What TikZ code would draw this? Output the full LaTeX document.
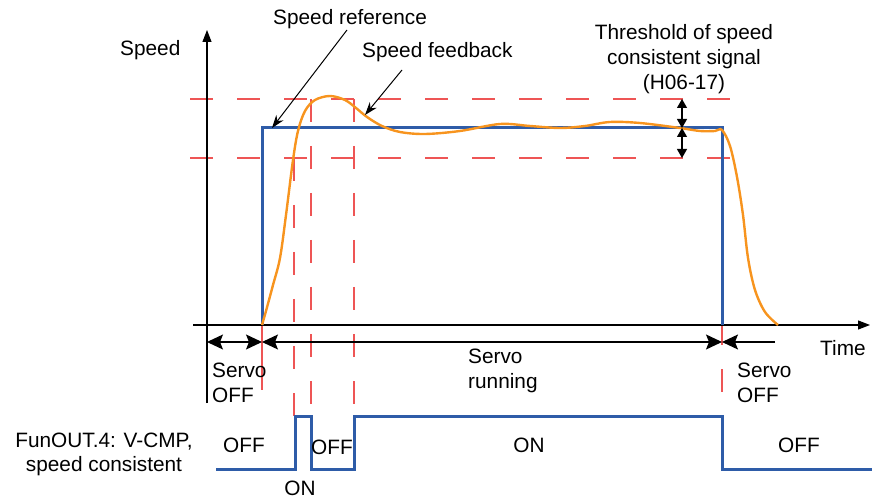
\documentclass[tikz,border=0pt]{standalone}
\usepackage{fontspec}
\setmainfont{Liberation Sans}
\usetikzlibrary{arrows.meta}
\definecolor{sblue}{RGB}{46,92,168}
\definecolor{sorange}{RGB}{247,148,30}
\definecolor{sred}{RGB}{238,85,85}
\tikzset{
  bigtip/.tip={Stealth[length=16pt,width=15pt,inset=3pt]},
  thrtip/.tip={Triangle[length=9pt,width=10pt]},
  axtip/.tip={Triangle[length=12pt,width=9pt]},
  annotip/.tip={Stealth[length=13pt,width=9pt]}}
\begin{document}
\begin{tikzpicture}[x=1pt,y=-1pt,
  lbl/.style={font=\fontsize{20.8}{25}\selectfont, inner sep=0pt},
  thr/.style={sred, line width=1.3pt, dash pattern=on 23pt off 24pt},
  ax/.style={black, line width=1.1pt},
  sig/.style={sblue, line width=3pt, line join=miter},
  fb/.style={sorange, line width=2.4pt}]
\useasboundingbox (0,0) rectangle (872,502);

% coordinates
\coordinate (yb) at (207,403);
\coordinate (yt) at (207,30);
\coordinate (xl) at (193,325);
\coordinate (xr) at (870,325);
\coordinate (t1l) at (190,99);
\coordinate (t1r) at (730,99);
\coordinate (t2l) at (190,158);
\coordinate (t2r) at (730,158);

% thresholds (red dashed)
\draw[thr] (t1l) -- (t1r);
\draw[thr] (t2l) -- (t2r);
\coordinate (v1a) at (294,158); \coordinate (v1b) at (294,416);
\coordinate (v2a) at (311,99);  \coordinate (v2b) at (311,416);
\coordinate (v3a) at (354,99);  \coordinate (v3b) at (354,416);
\coordinate (v4a) at (262,325); \coordinate (v4b) at (262,390);
\coordinate (v5a) at (722,322); \coordinate (v5b) at (722,393);
\draw[thr] (v1a) -- (v1b);
\draw[thr] (v2a) -- (v2b);
\draw[thr] (v3a) -- (v3b);
\draw[sred, line width=1.3pt] (v4a) -- (v4b);
\draw[thr] (v5a) -- (v5b);

% axes
\draw[ax, -axtip] (yb) -- (yt);
\draw[ax, -axtip] (xl) -- (xr);

% speed reference
\coordinate (r0) at (262,325);
\coordinate (r1) at (262,128);
\coordinate (r2) at (722,128);
\coordinate (r3) at (722,325);
\draw[sig] (r0) -- (r1) -- (r2) -- (r3);

% speed feedback
\draw[fb] plot[smooth, tension=0.55] coordinates {
 (262,325) (266,311) (273,285) (280,258) (286,215) (293,160) (298,131)
 (305,111) (315,100) (330,96) (345,100) (356,108) (367,117) (382,126)
 (400,132) (425,134) (460,131) (500,124) (530,126) (560,128) (585,126)
 (610,122) (640,123) (680,128) (700,131) (715,131) (722,130) (730,146)
 (737,177) (743,215) (748,258) (755,290) (765,312) (778,325)};

% threshold small arrows
\coordinate (h1) at (682,99);
\coordinate (h2) at (682,128);
\coordinate (h3) at (682,158);
\draw[ax, thrtip-thrtip] (h1) -- (h2);
\draw[ax, thrtip-thrtip] (h2) -- (h3);

% servo state arrows
\coordinate (s0) at (207,342);
\coordinate (s1) at (262,342);
\coordinate (s2) at (722,342);
\coordinate (s3) at (775,342);
\draw[ax, bigtip-bigtip] (s0) -- (s1);
\draw[ax, bigtip-bigtip] (s1) -- (s2);
\draw[ax, -bigtip] (s3) -- (s2);

% output signal
\draw[sig] (216,469) -- (295,469) -- (295,416) -- (311,416) -- (311,469)
  -- (354,469) -- (354,416) -- (722,416) -- (722,469) -- (872,469);

% labels
\node[lbl, anchor=base west] (lspeed) at (120,56) {Speed};
\node[lbl, anchor=base west] (lref) at (273,25) {Speed reference};
\node[lbl, anchor=base west] (lfb) at (362,58) {Speed feedback};
\node[lbl, anchor=base] (lth1) at (684,40) {Threshold of speed};
\node[lbl, anchor=base] (lth2) at (684,65) {consistent signal};
\node[lbl, anchor=base] (lth3) at (684,90) {(H06-17)};
\node[lbl, anchor=base west] (ltime) at (820,355) {Time};
\node[lbl, anchor=base west] (lso1) at (212,377) {Servo};
\node[lbl, anchor=base west] (lso2) at (212,402) {OFF};
\node[lbl, anchor=base west] (lsr1) at (468,363) {Servo};
\node[lbl, anchor=base west] (lsr2) at (468,388) {running};
\node[lbl, anchor=base west] (lsf1) at (737,377) {Servo};
\node[lbl, anchor=base west] (lsf2) at (737,402) {OFF};
\node[lbl, anchor=base] (lfo1) at (104,447) {FunOUT.4: V-CMP,};
\node[lbl, anchor=base] (lfo2) at (104,471) {speed consistent};
\node[lbl, anchor=base] (loff1) at (244,452) {OFF};
\node[lbl, anchor=base] (loff2) at (332,454) {OFF};
\node[lbl, anchor=base] (lon1) at (300,495) {ON};
\node[lbl, anchor=base] (lon2) at (529,452) {ON};
\node[lbl, anchor=base] (loff3) at (799,452) {OFF};

% annotation arrows
\coordinate (aref) at (347,30);
\coordinate (aref2) at (272,128);
\coordinate (afb) at (402,70);
\coordinate (afb2) at (365,115);
\draw[black, line width=1pt, -annotip] (aref) -- (aref2);
\draw[black, line width=1pt, -annotip] (afb) -- (afb2);
\end{tikzpicture}
\end{document}
